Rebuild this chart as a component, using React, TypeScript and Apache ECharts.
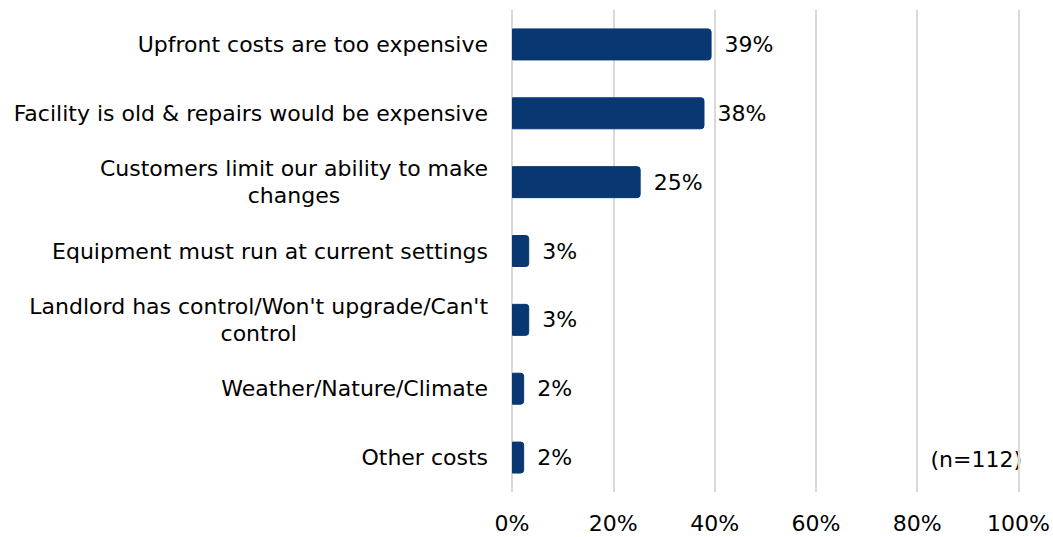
import React, { useEffect, useRef } from "react";
import * as echarts from "echarts";

const categories: string[] = [
  "Upfront costs are too expensive",
  "Facility is old & repairs would be expensive",
  "Customers limit our ability to make\nchanges",
  "Equipment must run at current settings",
  "Landlord has control/Won't upgrade/Can't\ncontrol",
  "Weather/Nature/Climate",
  "Other costs",
];
const values: number[] = [39.4, 38.0, 25.4, 3.4, 3.4, 2.4, 2.4];
const xTicks: number[] = [0, 20, 40, 60, 80, 100];
const note = "(n=112)";

const FONT = "DejaVu Sans";
const FS = 22;

export default function App() {
  const ref = useRef<HTMLDivElement>(null);
  useEffect(() => {
    if (!ref.current) return;
    const chart = echarts.init(ref.current, undefined, { renderer: "svg" });
    chart.setOption({
      animation: false,
      textStyle: { fontFamily: FONT },
      grid: { left: 512, right: 34, top: 10, bottom: 45, containLabel: false },
      xAxis: {
        type: "value",
        min: xTicks[0],
        max: xTicks[xTicks.length - 1],
        interval: 20,
        axisLine: { show: false },
        axisTick: { show: false },
        splitLine: { show: true, lineStyle: { color: "#d9d9d9", width: 2 } },
        axisLabel: {
          formatter: (v: number) => `${v}%`,
          fontSize: FS,
          color: "#000",
          margin: 20,
          fontFamily: FONT,
        },
      },
      yAxis: {
        type: "category",
        data: categories,
        inverse: true,
        axisLine: { show: false },
        axisTick: { show: false },
        axisLabel: {
          margin: 24,
          fontSize: FS,
          color: "#000",
          fontFamily: FONT,
          formatter: (v: string) =>
            v.split("\n").map((l) => `{c|${l}}`).join("\n"),
          rich: {
            c: { align: "center", fontSize: FS, lineHeight: 27, color: "#000", fontFamily: FONT },
          },
        },
      },
      series: [
        {
          type: "bar",
          data: values,
          barWidth: 32,
          itemStyle: {
            color: "#083772",
            borderColor: "#083772",
            borderWidth: 1,
            borderRadius: [0, 3, 3, 0],
          },
          label: {
            show: true,
            position: "right",
            distance: 13,
            fontSize: FS,
            color: "#000",
            fontFamily: FONT,
            formatter: (p: any) => `${Math.round(p.value)}%`,
          },
        },
      ],
      graphic: [
        {
          type: "text",
          right: 31,
          top: 448,
          style: { text: note, fontSize: FS, fill: "#000", fontFamily: FONT },
        },
      ],
    });
    return () => chart.dispose();
  }, []);
  return (
    <div
      ref={ref}
      style={{ position: "absolute", left: 0, top: 0, width: 1053, height: 537 }}
    />
  );
}
